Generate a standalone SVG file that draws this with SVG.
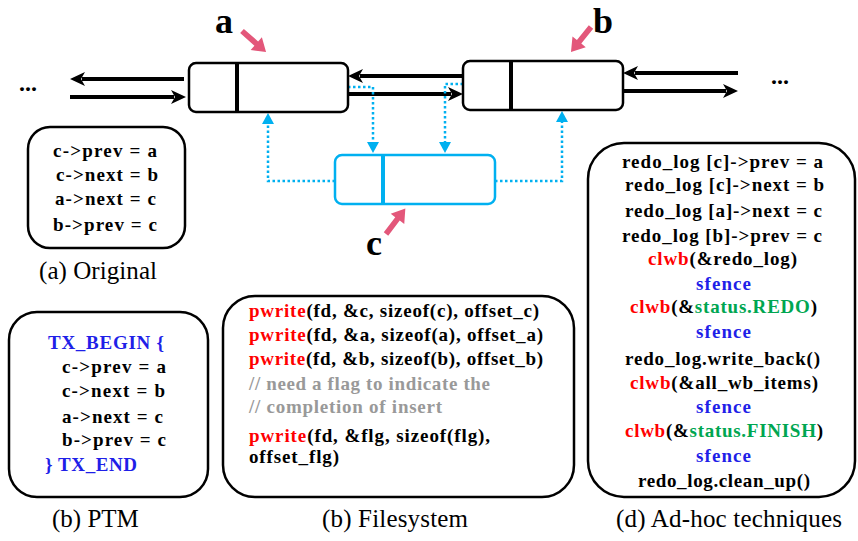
<svg xmlns="http://www.w3.org/2000/svg" xmlns:xlink="http://www.w3.org/1999/xlink" width="858" height="541" viewBox="0 0 858 541">
<style>
.nd{fill:#fff;stroke:#000;stroke-width:2.5}
.ndc{fill:#fff;stroke:#00B0F0;stroke-width:2.5}
.dv{stroke:#000;stroke-width:4}
.dvc{stroke:#00B0F0;stroke-width:4}
.bx{fill:#fff;stroke:#000;stroke-width:2.5}
.ln{fill:none;stroke:#000;stroke-width:4}
.dl{fill:none;stroke:#00B0F0;stroke-width:2.5;stroke-dasharray:2.5 2.5}
.lbl{font-family:"Liberation Serif","Times New Roman",serif;font-weight:bold;font-size:36px;fill:#000}
.dots{font-family:"Liberation Serif","Times New Roman",serif;font-weight:bold;font-size:24px;fill:#000}
.cd{font-family:"Liberation Serif","Times New Roman",serif;font-weight:bold;font-size:19px;fill:#000}
.cap{font-family:"Liberation Serif","Times New Roman",serif;font-size:25px;fill:#000}
.r{fill:#FF0000}.b{fill:#1F1FE8}.g{fill:#00A651}.gr{fill:#999999}
.pk{fill:#E3577A}
</style>
<defs>
<marker id="ah" markerUnits="userSpaceOnUse" markerWidth="16" markerHeight="14" refX="3" refY="7" orient="auto"><path d="M0,0 L15,7 L0,14 L4,7 z" fill="#000"/></marker>
<marker id="bh" markerUnits="userSpaceOnUse" markerWidth="14" markerHeight="14" refX="1" refY="6" orient="auto"><path d="M0,0 L11,6 L0,12 z" fill="#00B0F0"/></marker>
<path id="pka" d="M0,-2.8 L19,-2.8 L19,-8.5 L32,0 L19,8.5 L19,2.8 L0,2.8 z"/>
</defs>

<g id="connectors">
<path class="ln" d="M184,79 H82" marker-end="url(#ah)"/>
<path class="ln" d="M70,97 H174" marker-end="url(#ah)"/>
<path class="ln" d="M463,76 H360" marker-end="url(#ah)"/>
<path class="ln" d="M345,94 H451" marker-end="url(#ah)"/>
<path class="ln" d="M738,73 H635" marker-end="url(#ah)"/>
<path class="ln" d="M623,91 H726" marker-end="url(#ah)"/>
<path class="dl" d="M335,181 H268 V123" marker-end="url(#bh)"/>
<path class="dl" d="M495,181 H562 V121" marker-end="url(#bh)"/>
<path class="dl" d="M348,87 H373 V143" marker-end="url(#bh)"/>
<path class="dl" d="M463,84 H445 V143" marker-end="url(#bh)"/>
</g>

<g id="node-a">
<rect class="nd" x="189" y="63" width="159" height="49" rx="7"/>
<line class="dv" x1="237" y1="63" x2="237" y2="112"/>
<text class="lbl" x="215" y="33">a</text>
<use xlink:href="#pka" class="pk" transform="translate(242,31) rotate(41.3)"/>
</g>

<g id="node-b">
<rect class="nd" x="463" y="61" width="160" height="49" rx="7"/>
<line class="dv" x1="511" y1="61" x2="511" y2="110"/>
<text class="lbl" x="593" y="33">b</text>
<use xlink:href="#pka" class="pk" transform="translate(591,27) rotate(128.7)"/>
</g>

<g id="node-c">
<rect class="ndc" x="335" y="155" width="160" height="49" rx="7"/>
<line class="dvc" x1="383" y1="155" x2="383" y2="204"/>
<text class="lbl" x="366" y="255">c</text>
<use xlink:href="#pka" class="pk" transform="translate(386,234) rotate(-52.8)"/>
</g>

<g id="ellipses">
<text class="dots" x="19" y="91">...</text>
<text class="dots" x="771" y="84">...</text>
</g>

<g id="box-original">
<rect class="bx" x="28" y="127" width="157" height="121" rx="22"/>
<text class="cd" x="53" y="157" textLength="104" lengthAdjust="spacing">c-&gt;prev = a</text>
<text class="cd" x="56" y="181" textLength="102" lengthAdjust="spacing">c-&gt;next = b</text>
<text class="cd" x="55" y="205" textLength="101" lengthAdjust="spacing">a-&gt;next = c</text>
<text class="cd" x="53" y="231" textLength="104" lengthAdjust="spacing">b-&gt;prev = c</text>
<text class="cap" x="39" y="279" textLength="118" lengthAdjust="spacing">(a) Original</text>
</g>

<g id="box-ptm">
<rect class="bx" x="9" y="312" width="199" height="185" rx="28"/>
<text class="cd b" x="48" y="349" textLength="116" lengthAdjust="spacing">TX_BEGIN {</text>
<text class="cd" x="62" y="373" textLength="104" lengthAdjust="spacing">c-&gt;prev = a</text>
<text class="cd" x="62" y="397" textLength="103" lengthAdjust="spacing">c-&gt;next = b</text>
<text class="cd" x="62" y="423" textLength="101" lengthAdjust="spacing">a-&gt;next = c</text>
<text class="cd" x="62" y="446" textLength="104" lengthAdjust="spacing">b-&gt;prev = c</text>
<text class="cd b" x="45" y="471" textLength="92" lengthAdjust="spacing">} TX_END</text>
<text class="cap" x="52" y="527">(b) PTM</text>
</g>

<g id="box-filesystem">
<rect class="bx" x="223" y="296" width="351" height="201" rx="32"/>
<text class="cd" x="249" y="317" textLength="290" lengthAdjust="spacing"><tspan class="r">pwrite</tspan>(fd, &amp;c, sizeof(c), offset_c)</text>
<text class="cd" x="249" y="341" textLength="294" lengthAdjust="spacing"><tspan class="r">pwrite</tspan>(fd, &amp;a, sizeof(a), offset_a)</text>
<text class="cd" x="249" y="365" textLength="294" lengthAdjust="spacing"><tspan class="r">pwrite</tspan>(fd, &amp;b, sizeof(b), offset_b)</text>
<text class="cd gr" x="249" y="390" textLength="241" lengthAdjust="spacing">// need a flag to indicate the</text>
<text class="cd gr" x="249" y="413" textLength="193" lengthAdjust="spacing">// completion of insert</text>
<text class="cd" x="249" y="442" textLength="241" lengthAdjust="spacing"><tspan class="r">pwrite</tspan>(fd, &amp;flg, sizeof(flg),</text>
<text class="cd" x="249" y="463" textLength="90" lengthAdjust="spacing">offset_flg)</text>
<text class="cap" x="322" y="527" textLength="146" lengthAdjust="spacing">(b) Filesystem</text>
</g>

<g id="box-adhoc">
<rect class="bx" x="588" y="143" width="267" height="354" rx="36"/>
<text class="cd" x="622" y="168" textLength="201" lengthAdjust="spacing">redo_log [c]-&gt;prev = a</text>
<text class="cd" x="625" y="191" textLength="199" lengthAdjust="spacing">redo_log [c]-&gt;next = b</text>
<text class="cd" x="625" y="217" textLength="197" lengthAdjust="spacing">redo_log [a]-&gt;next = c</text>
<text class="cd" x="622" y="242" textLength="200" lengthAdjust="spacing">redo_log [b]-&gt;prev = c</text>
<text class="cd" x="648" y="265" textLength="149" lengthAdjust="spacing"><tspan class="r">clwb</tspan>(&amp;redo_log)</text>
<text class="cd b" x="696" y="290" textLength="55" lengthAdjust="spacing">sfence</text>
<text class="cd" x="630" y="313" textLength="187" lengthAdjust="spacing"><tspan class="r">clwb</tspan>(&amp;<tspan class="g">status.REDO</tspan>)</text>
<text class="cd b" x="696" y="338" textLength="55" lengthAdjust="spacing">sfence</text>
<text class="cd" x="625" y="365" textLength="195" lengthAdjust="spacing">redo_log.write_back()</text>
<text class="cd" x="630" y="389" textLength="188" lengthAdjust="spacing"><tspan class="r">clwb</tspan>(&amp;all_wb_items)</text>
<text class="cd b" x="696" y="413" textLength="55" lengthAdjust="spacing">sfence</text>
<text class="cd" x="625" y="437" textLength="198" lengthAdjust="spacing"><tspan class="r">clwb</tspan>(&amp;<tspan class="g">status.FINISH</tspan>)</text>
<text class="cd b" x="696" y="462" textLength="55" lengthAdjust="spacing">sfence</text>
<text class="cd" x="638" y="487" textLength="172" lengthAdjust="spacing">redo_log.clean_up()</text>
<text class="cap" x="616" y="527" textLength="226" lengthAdjust="spacing">(d) Ad-hoc techniques</text>
</g>
</svg>
